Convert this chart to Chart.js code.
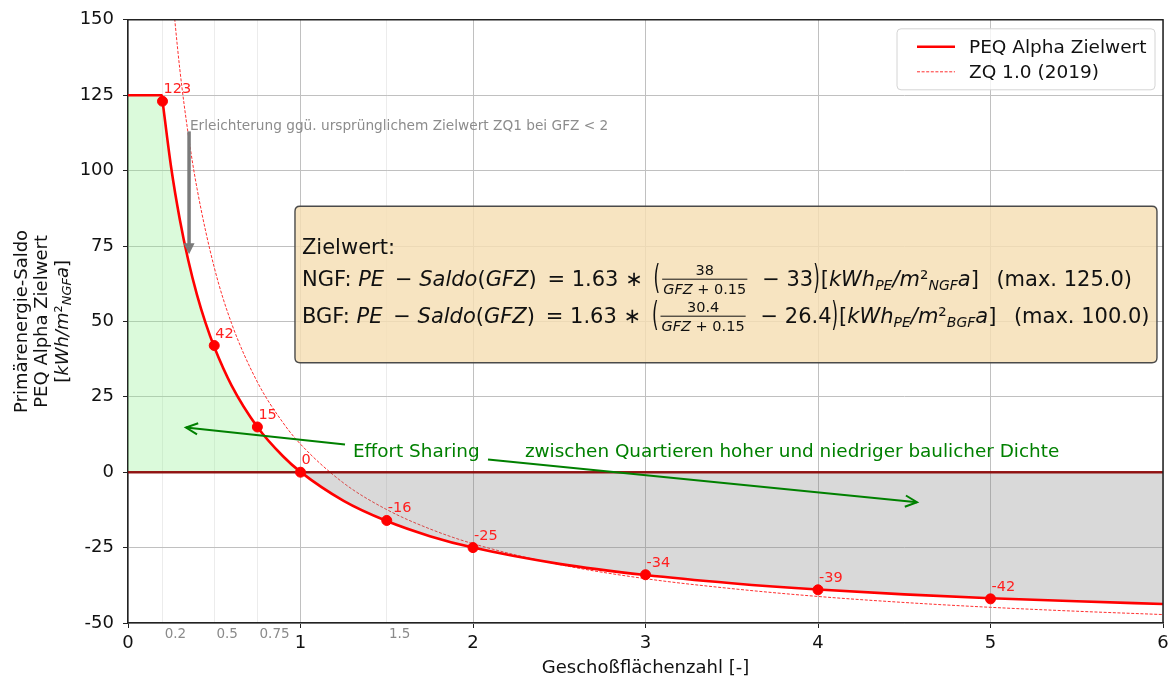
<!DOCTYPE html>
<html>
<head>
<meta charset="utf-8">
<script src="https://cdn.jsdelivr.net/npm/chart.js@4.4.0/dist/chart.umd.min.js"></script>
<style>
  html, body { margin: 0; padding: 0; background: #fff; }
</style>
</head>
<body>
<canvas id="chart" width="1171" height="680"></canvas>
<script>
// --- data ---
const gfz = [0, 0.196, 0.2, 0.25, 0.3, 0.35, 0.4, 0.45, 0.5, 0.6, 0.75, 0.9, 1, 1.25, 1.5, 1.75, 2, 2.5, 3, 3.5, 4, 4.5, 5, 5.5, 6];
const peqAlpha = [125, 125, 123.2, 101.1, 83.9, 70.1, 58.8, 49.4, 41.5, 28.8, 15.0, 5.2, 0.1, -9.5, -16.2, -21.2, -25.0, -30.4, -34.1, -36.8, -38.9, -40.5, -41.8, -42.8, -43.7];

const gfzZq1 = [0.25, 0.3, 0.35, 0.4, 0.5, 0.6, 0.75, 0.9, 1, 1.25, 1.5, 1.75, 2, 2.5, 3, 3.5, 4, 4.5, 5, 5.5, 6];
const zq1 = [162.5, 133.8, 111.7, 94.1, 67.9, 49.4, 29.9, 16.3, 9.3, -3.6, -12.4, -18.8, -23.7, -30.6, -35.3, -38.6, -41.2, -43.2, -44.8, -46.1, -47.2];

const markGfz = [0.2, 0.5, 0.75, 1, 1.5, 2, 3, 4, 5];
const markVal = [123, 42, 15, 0, -16, -25, -34, -39, -42];

const xMajor = [0, 1, 2, 3, 4, 5, 6];
const xMinor = [0.2, 0.5, 0.75, 1.5];

const FAM = 'DejaVu Sans';
const fnt = (sz, it) => (it ? 'italic ' : '') + sz + 'px "' + FAM + '"';

// annotation anchors in data units
const relief = { x: 0.354, from: 113, to: 72.3, tx: 0.359, ty: 113.6,
  text: 'Erleichterung ggü. ursprünglichem Zielwert ZQ1 bei GFZ < 2' };
const sharing = [
  { from: [1.258, 9.17], to: [0.336, 14.79] },
  { from: [2.087, 4.21], to: [4.574, -9.97] }
];
const sharingText = [
  { x: 1.304, y: 4.9, t: 'Effort Sharing' },
  { x: 2.301, y: 4.9, t: 'zwischen Quartieren hoher und niedriger baulicher Dichte' }
];
const box = { x0: 0.968, x1: 5.965, y0: 88.2, y1: 36.3 };

const TS = '\u2009';
const lineNGF = [
  { t: 'NGF: ' }, { t: 'PE', i: 1 }, { t: ' ' + TS + '− ' }, { t: 'Saldo', i: 1 }, { t: '(' }, { t: 'GFZ', i: 1 },
  { t: ')' + TS + ' = 1.63 ∗ ' + TS }, { paren: '(' },
  { frac: [[{ t: '38' }], [{ t: 'GFZ', i: 1 }, { t: ' + 0.15' }]] },
  { t: ' ' + TS + '− 33' }, { paren: ')' }, { t: '[' }, { t: 'kWh', i: 1 }, { t: 'PE', i: 1, s: 14, dy: 4 },
  { t: '/m', i: 1 }, { t: '²' }, { t: 'NGF', i: 1, s: 14, dy: 4 }, { t: 'a', i: 1 }, { t: ']  ' + TS + '(max. 125.0)' }
];
const lineBGF = [
  { t: 'BGF: ' }, { t: 'PE', i: 1 }, { t: ' ' + TS + '− ' }, { t: 'Saldo', i: 1 }, { t: '(' }, { t: 'GFZ', i: 1 },
  { t: ')' + TS + ' = 1.63 ∗ ' + TS }, { paren: '(' },
  { frac: [[{ t: '30.4' }], [{ t: 'GFZ', i: 1 }, { t: ' + 0.15' }]] },
  { t: ' ' + TS + '− 26.4' }, { paren: ')' }, { t: '[' }, { t: 'kWh', i: 1 }, { t: 'PE', i: 1, s: 14, dy: 4 },
  { t: '/m', i: 1 }, { t: '²' }, { t: 'BGF', i: 1, s: 14, dy: 4 }, { t: 'a', i: 1 }, { t: ']  ' + TS + '(max. 100.0)' }
];
const yTitle3 = [{ t: '[' }, { t: 'kWh/m', i: 1 }, { t: '²' }, { t: 'NGF', i: 1, s: 13, dy: 3 }, { t: 'a', i: 1 }, { t: ']' }];

function tokWidth(ctx, toks, sz) {
  let w = 0;
  for (const k of toks) { ctx.font = fnt(k.s || sz, k.i); w += ctx.measureText(k.t).width; }
  return w;
}
function drawToks(ctx, toks, x, y, sz) {
  for (const k of toks) {
    if (k.frac) {
      const nw = tokWidth(ctx, k.frac[0], 14.5), dw = tokWidth(ctx, k.frac[1], 14.5);
      const w = Math.max(nw, dw) + 4;
      drawToks(ctx, k.frac[0], x + (w - nw) / 2, y - 11, 14.5);
      drawToks(ctx, k.frac[1], x + (w - dw) / 2, y + 7.5, 14.5);
      ctx.fillRect(x + 1, y - 7.5, w - 2, 1);
      x += w + 3;
    } else if (k.paren) {
      ctx.save();
      ctx.font = fnt(sz);
      ctx.translate(x, y - 7.5);
      ctx.scale(0.8, 1.6);
      ctx.fillText(k.paren, 0, 6.5);
      const w = ctx.measureText(k.paren).width * 0.8;
      ctx.restore();
      x += w + 1;
    } else {
      ctx.font = fnt(k.s || sz, k.i);
      ctx.fillText(k.t, x, y + (k.dy || 0));
      x += ctx.measureText(k.t).width;
    }
  }
  return x;
}
function openArrow(ctx, x1, y1, x2, y2, color) {
  const a = Math.atan2(y2 - y1, x2 - x1), L = 13, s = 0.45;
  ctx.strokeStyle = color; ctx.lineWidth = 2;
  ctx.beginPath(); ctx.moveTo(x1, y1); ctx.lineTo(x2, y2); ctx.stroke();
  ctx.beginPath();
  ctx.moveTo(x2 - L * Math.cos(a - s), y2 - L * Math.sin(a - s));
  ctx.lineTo(x2, y2);
  ctx.lineTo(x2 - L * Math.cos(a + s), y2 - L * Math.sin(a + s));
  ctx.stroke();
}
function roundRect(ctx, x, y, w, h, r) {
  ctx.beginPath();
  ctx.moveTo(x + r, y); ctx.lineTo(x + w - r, y); ctx.quadraticCurveTo(x + w, y, x + w, y + r);
  ctx.lineTo(x + w, y + h - r); ctx.quadraticCurveTo(x + w, y + h, x + w - r, y + h);
  ctx.lineTo(x + r, y + h); ctx.quadraticCurveTo(x, y + h, x, y + h - r);
  ctx.lineTo(x, y + r); ctx.quadraticCurveTo(x, y, x + r, y);
  ctx.closePath();
}

const deco = {
  id: 'deco',
  beforeDraw(chart) {
    const ctx = chart.ctx;
    ctx.save(); ctx.fillStyle = '#fff'; ctx.fillRect(0, 0, chart.width, chart.height); ctx.restore();
  },
  afterDatasetsDraw(chart) {
    const { ctx, chartArea: a, scales: { x: xs, y: ys } } = chart;
    const px = v => xs.getPixelForValue(v), py = v => ys.getPixelForValue(v);
    ctx.save();

    // grey relief arrow + text
    const gx = px(relief.x), gy1 = py(relief.from), gy2 = py(relief.to);
    ctx.fillStyle = '#7a7a7a';
    ctx.fillRect(gx - 1.75, gy1, 3.5, gy2 - gy1 - 9);
    ctx.beginPath(); ctx.moveTo(gx - 5.5, gy2 - 11); ctx.lineTo(gx + 5.5, gy2 - 11); ctx.lineTo(gx, gy2); ctx.closePath(); ctx.fill();
    ctx.fillStyle = '#8c8c8c';
    ctx.font = fnt(13.7); ctx.textBaseline = 'alphabetic'; ctx.textAlign = 'left';
    ctx.fillText(relief.text, px(relief.tx), py(relief.ty));

    // effort sharing arrows and text
    sharing.forEach(s => openArrow(ctx, px(s.from[0]), py(s.from[1]), px(s.to[0]), py(s.to[1]), '#008000'));
    ctx.fillStyle = '#008000'; ctx.font = fnt(18.4);
    sharingText.forEach(s => ctx.fillText(s.t, px(s.x), py(s.y)));

    // formula box
    const bx = px(box.x0), by = py(box.y0), bw = px(box.x1) - bx, bh = py(box.y1) - by;
    roundRect(ctx, bx, by, bw, bh, 5);
    ctx.fillStyle = 'rgba(245,222,179,0.82)'; ctx.fill();
    ctx.strokeStyle = '#4a4a4a'; ctx.lineWidth = 1.4; ctx.stroke();
    ctx.fillStyle = '#111';
    ctx.font = fnt(21); ctx.fillText('Zielwert:', bx + 7, by + 48);
    drawToks(ctx, lineNGF, bx + 7, by + 80, 21);
    drawToks(ctx, lineBGF, bx + 7, by + 117, 21);

    // legend
    const lw = 258, lh = 61, lx = a.right - 8 - lw, ly = a.top + 9;
    roundRect(ctx, lx, ly, lw, lh, 4);
    ctx.fillStyle = 'rgba(255,255,255,0.8)'; ctx.fill();
    ctx.strokeStyle = '#d4d4d4'; ctx.lineWidth = 1; ctx.stroke();
    [0, 1].forEach((di, k) => {
      const ds = chart.data.datasets[di], yy = ly + 18 + k * 25;
      ctx.strokeStyle = ds.borderColor; ctx.lineWidth = ds.borderWidth;
      ctx.setLineDash(ds.borderDash || []);
      ctx.beginPath(); ctx.moveTo(lx + 20, yy); ctx.lineTo(lx + 58, yy); ctx.stroke();
      ctx.setLineDash([]);
      ctx.fillStyle = '#111'; ctx.font = fnt(18.5); ctx.textBaseline = 'middle';
      ctx.fillText(ds.label, lx + 72, yy + 1);
    });
    ctx.textBaseline = 'alphabetic';

    // value labels of the marked points
    ctx.fillStyle = '#ff2020'; ctx.font = fnt(14.5);
    markGfz.forEach((g, i) => ctx.fillText(String(markVal[i]), px(g) + 1, py(markVal[i]) - 8));

    ctx.restore();
  },
  afterDraw(chart) {
    const { ctx, chartArea: a } = chart;
    ctx.save();
    // top and right spines
    ctx.strokeStyle = '#222'; ctx.lineWidth = 1.5;
    ctx.beginPath(); ctx.moveTo(a.left, a.top); ctx.lineTo(a.right, a.top); ctx.lineTo(a.right, a.bottom); ctx.stroke();
    // y axis title (three lines, rotated)
    const cy = (a.top + a.bottom) / 2;
    ctx.fillStyle = '#111'; ctx.textBaseline = 'alphabetic';
    const lines = [[{ t: 'Primärenergie-Saldo' }], [{ t: 'PEQ Alpha Zielwert' }], yTitle3];
    lines.forEach((toks, k) => {
      ctx.save();
      ctx.translate(20 + k * 20.5, cy);
      ctx.rotate(-Math.PI / 2);
      const w = tokWidth(ctx, toks, 18);
      drawToks(ctx, toks, -w / 2, 6.5, 18);
      ctx.restore();
    });
    ctx.restore();
  }
};

const isMinor = v => xMinor.includes(v);
const measurer = document.createElement('canvas').getContext('2d');
// minor labels sit to the right of their tick: pad the centred label with leading spaces
function minorLabel(v) {
  measurer.font = fnt(13.5);
  const s = String(v);
  const n = Math.round((measurer.measureText(s).width + 4) / measurer.measureText(' ').width);
  return ' '.repeat(n) + s;
}

new Chart(document.getElementById('chart'), {
  type: 'line',
  data: {
    datasets: [
      {
        label: 'PEQ Alpha Zielwert',
        data: gfz.map((g, i) => ({ x: g, y: peqAlpha[i] })),
        borderColor: '#ff0000', borderWidth: 2.6, pointRadius: 0,
        cubicInterpolationMode: 'monotone',
        fill: { target: { value: 0 }, above: 'rgba(144,238,144,0.32)', below: 'rgba(128,128,128,0.3)' },
        order: 2
      },
      {
        label: 'ZQ 1.0 (2019)',
        data: gfzZq1.map((g, i) => ({ x: g, y: zq1[i] })),
        borderColor: '#ff3030', borderWidth: 1, borderDash: [3, 1.6], pointRadius: 0,
        cubicInterpolationMode: 'monotone', fill: false,
        order: 3
      },
      {
        label: 'zero',
        data: [{ x: 0, y: 0 }, { x: 6, y: 0 }],
        borderColor: 'rgba(139,0,0,0.9)', borderWidth: 2.4, pointRadius: 0, fill: false,
        order: 1
      },
      {
        label: 'marks',
        data: markGfz.map((g, i) => ({ x: g, y: markVal[i] })),
        showLine: false, pointRadius: 5, pointBackgroundColor: '#ff0000', pointBorderColor: '#ff0000',
        order: 0
      }
    ]
  },
  options: {
    responsive: false,
    devicePixelRatio: 1,
    animation: false,
    layout: { padding: { left: 0, right: 8, top: 18, bottom: 0 } },
    plugins: { legend: { display: false }, tooltip: { enabled: false } },
    scales: {
      x: {
        type: 'linear', min: 0, max: 6,
        afterBuildTicks: s => { s.ticks = xMajor.concat(xMinor).sort((p, q) => p - q).map(v => ({ value: v })); },
        afterFit: s => { s.height = 57; },
        grid: {
          color: c => isMinor(c.tick && c.tick.value) ? '#ececec' : '#c0c0c0',
          tickColor: c => isMinor(c.tick && c.tick.value) ? 'rgba(0,0,0,0)' : '#222',
          tickLength: 5
        },
        border: { color: '#222', width: 1.5 },
        ticks: {
          autoSkip: false, maxRotation: 0, padding: 0,
          color: c => isMinor(c.tick && c.tick.value) ? '#8a8a8a' : '#111',
          font: c => isMinor(c.tick && c.tick.value)
            ? { family: FAM, size: 13.5, lineHeight: 1.0 }
            : { family: FAM, size: 18, lineHeight: 1.667 },
          callback: v => isMinor(v) ? minorLabel(v) : String(v)
        },
        title: { display: true, text: 'Geschoßflächenzahl [-]', color: '#111', font: { family: FAM, size: 18 }, padding: { top: 0, bottom: 1 } }
      },
      y: {
        min: -50, max: 150,
        afterFit: s => { s.width = 128; },
        grid: { color: '#c0c0c0', tickColor: '#222', tickLength: 5 },
        border: { color: '#222', width: 1.5 },
        ticks: { stepSize: 25, color: '#111', font: { family: FAM, size: 18 }, padding: 9 }
      }
    }
  },
  plugins: [deco]
});
</script>
</body>
</html>
